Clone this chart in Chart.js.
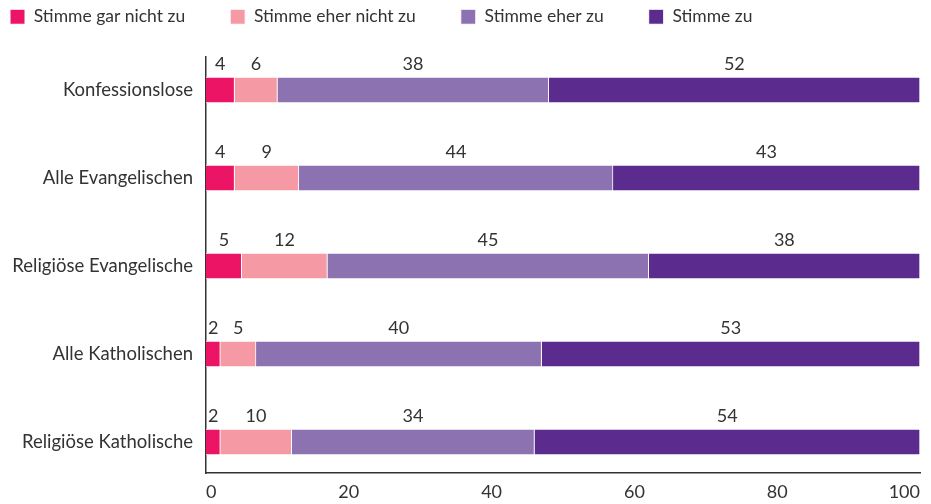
<!DOCTYPE html>
<html>
<head>
<meta charset="utf-8">
<script src="https://cdn.jsdelivr.net/npm/chart.js@4.4.1/dist/chart.umd.min.js"></script>
<style>
  html, body { margin: 0; padding: 0; background: #fff; }
  #wrap { width: 931px; height: 504px; }
</style>
</head>
<body>
<div id="wrap"><canvas id="chart" width="931" height="504"></canvas></div>
<script>
// Zustimmung nach Gruppe, Angaben in Prozent
const categories = [
    'Konfessionslose',
    'Alle Evangelischen',
    'Religiöse Evangelische',
    'Alle Katholischen',
    'Religiöse Katholische'
];
const seriesNames = ['Stimme gar nicht zu', 'Stimme eher nicht zu', 'Stimme eher zu', 'Stimme zu'];
const garNicht = [4, 4, 5, 2, 2];
const eherNicht = [6, 9, 12, 5, 10];
const eherZu = [38, 44, 45, 40, 34];
const zu = [52, 43, 38, 53, 54];
const xTicks = [0, 20, 40, 60, 80, 100];

const colors = ['#EC1464', '#F59AA5', '#8C72B0', '#5B2C8E'];
const textColor = '#333333';
const fontFamily = 'Lato, "Noto Sans", sans-serif';

// value labels above each segment
const valueLabels = {
    id: 'valueLabels',
    afterDatasetsDraw(chart) {
        const ctx = chart.ctx;
        ctx.save();
        ctx.font = '18px ' + fontFamily;
        ctx.fillStyle = textColor;
        ctx.textAlign = 'center';
        ctx.textBaseline = 'middle';
        chart.data.datasets.forEach((ds, di) => {
            chart.getDatasetMeta(di).data.forEach((bar, i) => {
                const cx = (bar.x + bar.base) / 2;
                ctx.fillText(String(ds.data[i].x), cx, bar.y - 26);
            });
        });
        ctx.restore();
    }
};

// move the legend into the top-left corner
const legendShift = {
    id: 'legendShift',
    afterLayout(chart) {
        if (chart.legend) {
            chart.legend.left -= 35;
            chart.legend.top -= 21.5;
        }
    }
};

const seriesValues = [garNicht, eherNicht, eherZu, zu];

new Chart(document.getElementById('chart').getContext('2d'), {
    type: 'bar',
    data: {
        datasets: seriesValues.map((vals, s) => ({
            label: seriesNames[s],
            data: vals.map((v, i) => ({ x: v, y: i })),
            backgroundColor: colors[s],
            borderColor: '#ffffff',
            borderWidth: 1,
            borderSkipped: 'start',
            barThickness: 26
        }))
    },
    options: {
        indexAxis: 'y',
        responsive: false,
        animation: false,
        layout: { padding: { top: -15.5, right: 11, bottom: 0, left: 0 } },
        plugins: {
            legend: {
                position: 'top',
                align: 'start',
                labels: {
                    boxWidth: 15,
                    boxHeight: 15,
                    padding: 45,
                    color: textColor,
                    font: { family: fontFamily, size: 17.5 }
                }
            },
            tooltip: { enabled: false }
        },
        scales: {
            x: {
                type: 'linear',
                stacked: true,
                min: 0,
                max: 100,
                grid: { display: false, drawTicks: false },
                border: { display: true, color: textColor, width: 1.5 },
                afterBuildTicks: (scale) => { scale.ticks = xTicks.map(v => ({ value: v })); },
                afterFit: (scale) => { scale.height = 31; },
                ticks: {
                    align: 'inner',
                    maxRotation: 0,
                    padding: 8,
                    color: textColor,
                    font: { family: fontFamily, size: 18 }
                }
            },
            y: {
                type: 'linear',
                stacked: true,
                reverse: true,
                offset: false,
                min: -0.375,
                max: 4.352,
                grid: { display: false, drawTicks: false, offset: false },
                border: { display: true, color: textColor, width: 1.5 },
                afterBuildTicks: (scale) => { scale.ticks = categories.map((c, i) => ({ value: i })); },
                afterFit: (scale) => { scale.width = 206; },
                ticks: {
                    padding: 13,
                    color: textColor,
                    font: { family: fontFamily, size: 18.5 },
                    callback: (v) => categories[v]
                }
            }
        }
    },
    plugins: [valueLabels, legendShift]
});
</script>
</body>
</html>
